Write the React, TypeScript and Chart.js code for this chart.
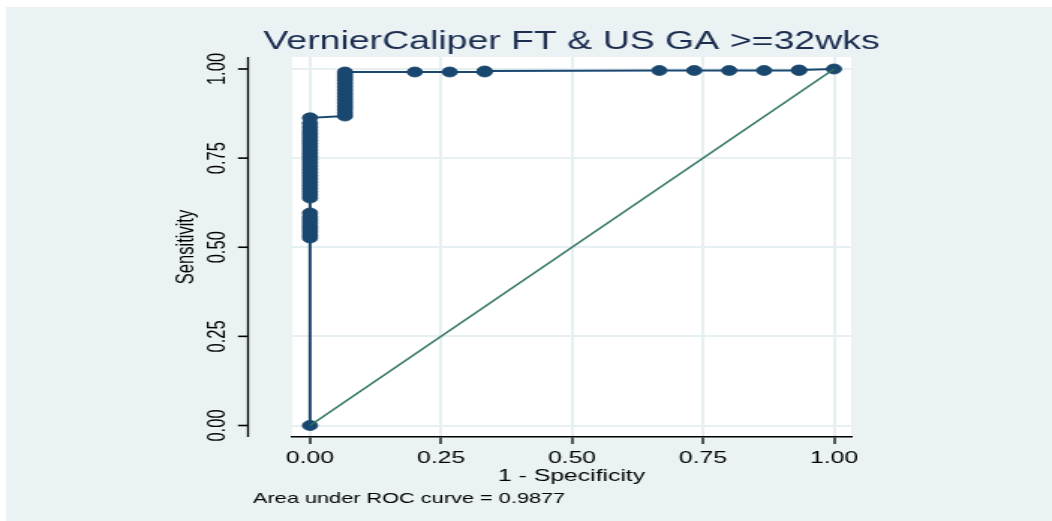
import React, { useEffect, useRef } from 'react';
import { Chart, registerables } from 'chart.js';

Chart.register(...registerables);

// ---------- data ----------
const chartTitle = 'VernierCaliper FT & US GA >=32wks';
const xTitle = '1 - Specificity';
const yTitle = 'Sensitivity';
const footnote = 'Area under ROC curve = 0.9877';

const xTicks = [0, 0.25, 0.5, 0.75, 1];
const yTicks = [0, 0.25, 0.5, 0.75, 1];

// ROC curve points (1 - specificity, sensitivity)
const rocFpr = [
  0,
  0, 0, 0, 0, 0, 0, 0, 0, 0,
  0, 0, 0, 0, 0, 0, 0, 0, 0, 0, 0, 0, 0, 0, 0, 0, 0, 0, 0, 0, 0, 0, 0, 0, 0,
  0.0667, 0.0667, 0.0667, 0.0667, 0.0667, 0.0667, 0.0667, 0.0667, 0.0667, 0.0667,
  0.0667, 0.0667, 0.0667, 0.0667, 0.0667,
  0.2, 0.2667, 0.3333, 0.3333, 0.6667, 0.7333, 0.8, 0.8667, 0.9333, 0.9333, 1,
];
const rocSens = [
  0,
  0.526, 0.534, 0.543, 0.551, 0.559, 0.568, 0.576, 0.585, 0.596,
  0.638, 0.647, 0.656, 0.665, 0.674, 0.683, 0.692, 0.701, 0.710, 0.719, 0.728, 0.737, 0.746,
  0.755, 0.764, 0.773, 0.782, 0.791, 0.800, 0.809, 0.818, 0.827, 0.837, 0.848, 0.863,
  0.868, 0.877, 0.887, 0.896, 0.905, 0.914, 0.923, 0.932, 0.941, 0.950,
  0.959, 0.968, 0.976, 0.984, 0.9916,
  0.9916, 0.9916, 0.9916, 0.9944, 0.9958, 0.9958, 0.9958, 0.9958, 0.9958, 0.9972, 1,
];

// reference (chance) line
const refX = [0, 1];
const refY = [0, 1];

// ---------- style / layout ----------
const CANVAS_W = 702;
const CANVAS_H = 521;
const S = 1052 / CANVAS_W; // horizontal stretch of the whole picture
const px = (v: number) => v / S;

const NAVY = '#1a476f';
const GREEN = '#2f7361';
const BG = '#eaf2f3';
const GRID = '#e6eff1';
const FONT = '"Liberation Sans", Arial, Helvetica, sans-serif';
const TICK_SIZE = 16.5;

const AREA_LEFT = 292;
const AREA_RIGHT = 851;
const AREA_TOP = 57;
const AREA_BOTTOM = 437;
const X0 = 310; // pixel of x = 0 in reference
const X1 = 834; // pixel of x = 1
const Y0 = 425.5; // pixel of y = 0
const Y1 = 69; // pixel of y = 1

const xUnit = X1 - X0;
const xMin = -(X0 - AREA_LEFT) / xUnit;
const xMax = 1 + (AREA_RIGHT - X1) / xUnit;
const yUnit = Y0 - Y1;
const yMin = -(AREA_BOTTOM - Y0) / yUnit;
const yMax = 1 + (Y1 - AREA_TOP) / yUnit;

const decoPlugin = {
  id: 'deco',
  beforeDraw(chart: any) {
    const { ctx, width, height, chartArea: a } = chart;
    ctx.save();
    ctx.fillStyle = '#ffffff';
    ctx.fillRect(0, 0, width, height);
    ctx.fillStyle = BG;
    ctx.fillRect(px(6), 7, width, height);
    ctx.fillStyle = '#ffffff';
    ctx.fillRect(a.left, a.top, a.right - a.left, a.bottom - a.top);
    ctx.restore();
  },
  afterDraw(chart: any) {
    const { ctx, chartArea: a } = chart;
    const ys = chart.scales.y;
    ctx.save();
    // y axis (offset from plot region)
    ctx.strokeStyle = '#000';
    ctx.lineWidth = 1.3;
    ctx.beginPath();
    ctx.moveTo(px(248), a.top);
    ctx.lineTo(px(248), a.bottom);
    ctx.stroke();
    ctx.font = `${TICK_SIZE}px ${FONT}`;
    ctx.fillStyle = '#000';
    ctx.textAlign = 'center';
    ctx.textBaseline = 'middle';
    ys.ticks.forEach((t: any) => {
      const y = ys.getPixelForValue(t.value);
      ctx.lineWidth = 1.6;
      ctx.beginPath();
      ctx.moveTo(px(238), y);
      ctx.lineTo(px(248), y);
      ctx.stroke();
      ctx.save();
      ctx.translate(px(218), y);
      ctx.rotate(-Math.PI / 2);
      ctx.fillText(Number(t.value).toFixed(2), 0, 0);
      ctx.restore();
    });
    // y title
    ctx.save();
    ctx.translate(px(187), (a.top + a.bottom) / 2);
    ctx.rotate(-Math.PI / 2);
    ctx.fillText(yTitle, 0, 0);
    ctx.restore();
    // x title
    ctx.textBaseline = 'alphabetic';
    ctx.fillText(xTitle, (a.left + a.right) / 2, 481);
    // main title
    ctx.fillStyle = '#1c2d50';
    ctx.font = `25px ${FONT}`;
    ctx.fillText(chartTitle, (a.left + a.right) / 2, 49);
    // footnote
    ctx.fillStyle = '#000';
    ctx.textAlign = 'left';
    ctx.font = `14.5px ${FONT}`;
    ctx.fillText(footnote, px(253), 503);
    ctx.restore();
  },
};

export default function App() {
  const ref = useRef<HTMLCanvasElement>(null);
  useEffect(() => {
    document.body.style.margin = '0';
    const chart = new Chart(ref.current as HTMLCanvasElement, {
      type: 'scatter',
      data: {
        datasets: [
          {
            label: 'Reference',
            data: refX.map((x, i) => ({ x, y: refY[i] })),
            showLine: true,
            borderColor: GREEN,
            backgroundColor: GREEN,
            borderWidth: 1.5,
            pointRadius: 0,
            order: 0,
          },
          {
            label: 'ROC',
            data: rocFpr.map((x, i) => ({ x, y: rocSens[i] })),
            showLine: true,
            borderColor: NAVY,
            backgroundColor: NAVY,
            borderWidth: 2,
            pointRadius: 5,
            pointBorderWidth: 0.8,
            pointBorderColor: NAVY,
            pointBackgroundColor: NAVY,
            order: 1,
          },
        ],
      },
      options: {
        animation: false,
        responsive: false,
        devicePixelRatio: 1,
        layout: {
          padding: { left: 0, top: AREA_TOP, right: CANVAS_W - px(AREA_RIGHT), bottom: 0 },
        },
        plugins: {
          legend: { display: false },
          tooltip: { enabled: false },
          title: { display: false },
        },
        scales: {
          x: {
            type: 'linear',
            min: xMin,
            max: xMax,
            afterBuildTicks: (s: any) => {
              s.ticks = xTicks.map((v) => ({ value: v }));
            },
            afterFit: (s: any) => {
              s.height = CANVAS_H - AREA_BOTTOM;
            },
            grid: { color: GRID, lineWidth: 2, tickColor: '#000', tickLength: 7, tickWidth: 1.3 },
            border: { display: true, color: '#000', width: 1.5 },
            ticks: {
              font: { family: FONT, size: TICK_SIZE },
              color: '#000',
              padding: 5,
              maxRotation: 0,
              callback: (v: any) => Number(v).toFixed(2),
            },
          },
          y: {
            type: 'linear',
            min: yMin,
            max: yMax,
            afterBuildTicks: (s: any) => {
              s.ticks = yTicks.map((v) => ({ value: v }));
            },
            afterFit: (s: any) => {
              s.width = px(AREA_LEFT);
            },
            grid: { color: GRID, lineWidth: 2, drawTicks: false },
            border: { display: false },
            ticks: { display: false },
          },
        },
      },
      plugins: [decoPlugin],
    } as any);
    return () => chart.destroy();
  }, []);
  return (
    <div
      style={{
        position: 'fixed',
        left: 0,
        top: 0,
        width: CANVAS_W,
        height: CANVAS_H,
        transform: `scaleX(${S})`,
        transformOrigin: '0 0',
      }}
    >
      <canvas ref={ref} width={CANVAS_W} height={CANVAS_H} style={{ display: 'block' }} />
    </div>
  );
}
